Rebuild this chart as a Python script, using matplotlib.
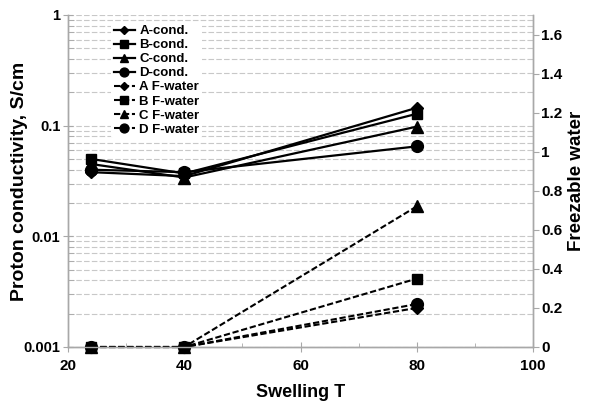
import matplotlib
matplotlib.use("Agg")
import matplotlib.pyplot as plt
from matplotlib.ticker import LogLocator, FixedLocator, NullFormatter, FuncFormatter

plt.rcParams['font.family'] = ['Liberation Sans', 'DejaVu Sans']
plt.rcParams['font.weight'] = 'bold'

swelling_t = [24, 40, 80]
cond_A = [0.038, 0.035, 0.145]
cond_B = [0.050, 0.037, 0.128]
cond_C = [0.045, 0.034, 0.098]
cond_D = [0.040, 0.038, 0.065]
fw_A = [0.0, 0.0, 0.20]
fw_B = [0.0, 0.0, 0.35]
fw_C = [0.0, 0.0, 0.72]
fw_D = [0.0, 0.0, 0.22]

labels_cond = ["A-cond.", "B-cond.", "C-cond.", "D-cond."]
labels_fw = ["A F-water", "B F-water", "C F-water", "D F-water"]
x_ticks = [20, 40, 60, 80, 100]
y2_ticks = [0, 0.2, 0.4, 0.6, 0.8, 1, 1.2, 1.4, 1.6]
markers = ["D", "s", "^", "o"]
msizes = [6, 7, 8, 8.5]

fig = plt.figure(figsize=(5.89, 4.03), dpi=100)
ax = fig.add_axes([68/589, 1-347/403, (533-68)/589, (347-15)/403])
ax2 = ax.twinx()

ax.set_yscale('log')
ax.set_ylim(0.001, 1)
ax.set_xlim(20, 100)
ax2.set_ylim(0, 1.7)

grey = '#a8a8a8'
ax.yaxis.set_minor_locator(LogLocator(base=10, subs=range(2, 10)))
ax.yaxis.set_minor_formatter(NullFormatter())
ax.grid(True, which='both', axis='y', linestyle=(0, (5, 2)), color='#c8c8c8', linewidth=0.8)
ax.set_axisbelow(True)

handles = []
for y, lab, m, ms in zip([cond_A, cond_B, cond_C, cond_D], labels_cond, markers, msizes):
    h, = ax2.plot([], [], color='black', marker=m, markersize=ms*0.75, linewidth=1.6, label=lab)
    handles.append(h)
    ax.plot(swelling_t, y, color='black', marker=m, markersize=ms, linewidth=1.6, zorder=3)
for y, lab, m, ms in zip([fw_A, fw_B, fw_C, fw_D], labels_fw, markers, msizes):
    ax2.plot(swelling_t, y, color='black', marker=m, markersize=ms, linewidth=1.5,
             linestyle=(0, (3, 1.3)), clip_on=False)
    h, = ax2.plot([], [], color='black', marker=m, markersize=ms*0.75, linewidth=1.5,
                  linestyle=(0, (3, 1.3)), label=lab)
    handles.append(h)

ax.set_xticks(x_ticks)
ax.xaxis.set_minor_locator(FixedLocator([30, 50, 70, 90]))
ax.yaxis.set_major_formatter(FuncFormatter(lambda v, p: {0.001: '0.001', 0.01: '0.01', 0.1: '0.1', 1.0: '1'}.get(round(v, 3), '')))
ax2.set_yticks(y2_ticks)
ax2.yaxis.set_major_formatter(FuncFormatter(lambda v, p: ('%g' % round(v, 1))))

for a in (ax, ax2):
    for s in a.spines.values():
        s.set_color(grey)
        s.set_linewidth(1.0)
    a.tick_params(colors=grey, labelcolor='black', labelsize=11)
    a.tick_params(which='minor', colors=grey)
ax.spines['top'].set_visible(False)
ax2.spines['top'].set_visible(False)
ax.tick_params(axis='y', which='major', direction='inout', length=7, pad=2, labelsize=10.5)
ax.tick_params(axis='y', which='minor', direction='in', length=4)
ax.tick_params(axis='x', which='major', direction='inout', length=7, pad=5)
ax.tick_params(axis='x', which='minor', direction='in', length=3)
ax2.tick_params(axis='y', which='major', direction='out', length=4, pad=2)

ax.set_xlabel('Swelling T', fontsize=13, fontweight='bold', labelpad=8)
ax.set_ylabel('Proton conductivity, S/cm', fontsize=14, fontweight='bold')
ax.yaxis.set_label_coords((28-68)/465, 0.5)
ax2.set_ylabel('Freezable water', fontsize=13.5, fontweight='bold')
ax2.yaxis.set_label_coords((568-68)/465, 0.5)

leg = ax2.legend(handles=handles, loc='upper left', bbox_to_anchor=(0.078, 0.998), frameon=True,
                 edgecolor='white', facecolor='white', framealpha=1, fontsize=9.5,
                 handlelength=1.6, handletextpad=0.35, labelspacing=0.14, borderpad=0.2)
leg.get_frame().set_linewidth(0)

fig.savefig('out.png', dpi=100)
